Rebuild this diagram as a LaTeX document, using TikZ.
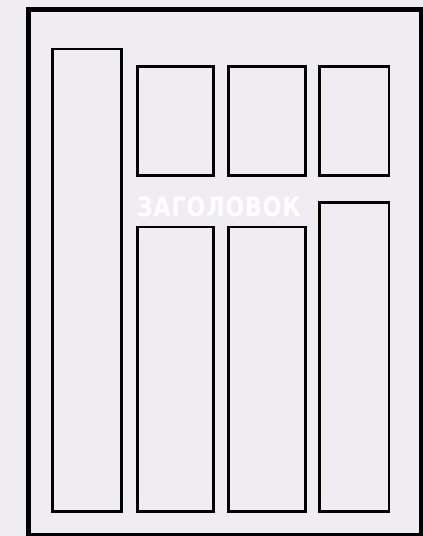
\documentclass[tikz,border=0pt]{standalone}
\usepackage{fontspec}
\setmainfont{DejaVu Sans}
\newfontfamily\titlefont[LetterSpace=4]{DejaVu Sans Condensed}
\definecolor{bgc}{RGB}{239,237,242}
\tikzset{
  panel/.style={draw=black, line width=2.6pt, fill=none},
  frame/.style={draw=black, line width=5pt},
  title/.style={text=white, font=\titlefont\bfseries, inner sep=0pt}
}
\begin{document}
\begin{tikzpicture}[x=1pt,y=-1pt]
\useasboundingbox (0,0) rectangle (423,536);
\fill[bgc] (0,0) rectangle (423,536);
\begin{scope}
\clip (0,0) rectangle (423,536);
\draw[frame] (28.8,9.2) rectangle (421.5,535.5);
\end{scope}
% left tall panel
\draw[panel] (52.3,48.8) rectangle (121.6,511.6);
% top row
\draw[panel] (137.3,66.5) rectangle (213.7,175.6);
\draw[panel] (228.3,66.5) rectangle (305.6,175.6);
\draw[panel] (319.7,66.5) rectangle (388.8,175.6);
% lower row
\draw[panel] (137.3,226.8) rectangle (213.7,511.6);
\draw[panel] (228.3,226.8) rectangle (305.6,511.6);
\draw[panel] (319.7,202.3) rectangle (388.8,511.6);
\node[title, anchor=base west] (t) at (136.9,216.7) {\resizebox{163.5pt}{19.6pt}{ЗАГОЛОВОК}};
\end{tikzpicture}
\end{document}
